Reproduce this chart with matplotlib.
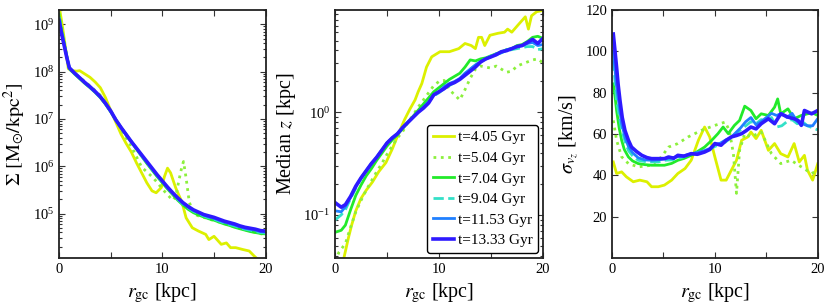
import numpy as np
import matplotlib
matplotlib.use("Agg")
import matplotlib.pyplot as plt
from matplotlib.ticker import LogLocator, NullFormatter

plt.rcParams['font.family'] = 'serif'
plt.rcParams['font.serif'] = ['Liberation Serif', 'DejaVu Serif']
plt.rcParams['mathtext.fontset'] = 'stix'

# snapshots
labels = ['t=4.05 Gyr', 't=5.04 Gyr', 't=7.04 Gyr', 't=9.04 Gyr', 't=11.53 Gyr', 't=13.33 Gyr']
colors = ['#dcf000', '#8cf03c', '#22ea2a', '#33e0c8', '#2080ff', '#2e1aff']
styles = ['-', ':', '-', '--', '-', '-']
widths = [2.0, 2.0, 2.0, 2.0, 2.0, 2.6]

# ---- panel 1: surface density (log10 Msun/kpc^2) ----
r_sig = [0, 0.25, 0.5, 0.75, 1.0, 1.5, 2, 2.5, 3, 3.5, 4, 4.5, 5, 5.5, 6, 6.5, 7, 7.5, 8, 8.5,
         9, 9.5, 10, 10.5, 11, 11.5, 12, 12.5, 13, 13.5, 14, 14.5, 15, 15.5, 16, 16.5, 17,
         17.5, 18, 18.5, 19, 19.5, 20]
r_sig_405 = [0, 0.3, 0.6, 0.9, 1.3, 1.7, 2.0, 2.5, 3.0, 3.5, 4.0, 4.5, 5.0, 5.5, 6.0, 6.5, 7.0,
             7.5, 8.0, 8.5, 9.0, 9.4, 9.9, 10.2, 10.5, 10.8, 11.3, 11.9, 12.3, 12.9, 13.5, 14.2,
             14.5, 15.0, 15.7, 16.2, 16.6, 17.1, 17.8, 18.4, 18.9, 19.5, 20]
lsig_405 = [9.40, 9.00, 8.55, 8.06, 8.02, 8.01, 8.02, 7.95, 7.88, 7.78, 7.66, 7.45, 7.18, 6.93,
            6.68, 6.48, 6.30, 6.07, 5.86, 5.65, 5.48, 5.44, 5.55, 5.78, 5.96, 5.86, 5.54, 5.24,
            4.91, 4.70, 4.63, 4.56, 4.45, 4.52, 4.35, 4.38, 4.28, 4.28, 4.24, 4.21, 4.10, 3.98, 3.90]
r_sig_504 = [0, 0.3, 0.6, 1.0, 1.5, 2, 3, 4, 5, 6, 7, 7.5, 8, 8.5, 9, 9.5, 10, 10.5, 11, 11.3,
             11.6, 11.9, 12.05, 12.3, 12.6, 13, 13.5, 14, 15, 16, 17, 18, 19, 20]
lsig_504 = [9.25, 8.90, 8.50, 8.05, 7.96, 7.88, 7.70, 7.50, 7.18, 6.78, 6.42, 6.20, 5.98, 5.88,
            5.78, 5.66, 5.52, 5.40, 5.28, 5.36, 5.70, 6.00, 6.10, 5.75, 5.25, 5.00, 4.95, 4.92,
            4.85, 4.79, 4.72, 4.66, 4.60, 4.55]
lsig_704 = [9.20, 8.88, 8.60, 8.33, 8.06, 7.95, 7.85, 7.75, 7.66, 7.56, 7.45, 7.31, 7.15, 6.98,
            6.82, 6.66, 6.51, 6.36, 6.21, 6.06, 5.92, 5.78, 5.65, 5.52, 5.40, 5.28, 5.18, 5.09,
            5.02, 4.97, 4.93, 4.89, 4.86, 4.82, 4.78, 4.75, 4.71, 4.68, 4.65, 4.62, 4.60, 4.58, 4.57]
lsig_904 = [9.15, 8.85, 8.58, 8.32, 8.07, 7.96, 7.86, 7.76, 7.67, 7.57, 7.46, 7.32, 7.16, 6.98,
            6.82, 6.67, 6.52, 6.37, 6.22, 6.08, 5.94, 5.80, 5.67, 5.54, 5.42, 5.30, 5.20, 5.12,
            5.05, 5.00, 4.95, 4.91, 4.88, 4.84, 4.80, 4.77, 4.74, 4.70, 4.67, 4.65, 4.62, 4.60, 4.59]
lsig_1153 = [9.12, 8.83, 8.57, 8.31, 8.08, 7.97, 7.87, 7.77, 7.67, 7.57, 7.46, 7.32, 7.16, 6.98,
             6.82, 6.67, 6.52, 6.38, 6.23, 6.09, 5.95, 5.81, 5.68, 5.55, 5.43, 5.32, 5.22, 5.14,
             5.07, 5.02, 4.97, 4.93, 4.90, 4.86, 4.82, 4.79, 4.76, 4.72, 4.69, 4.67, 4.65, 4.62, 4.61]
lsig_1333 = [9.08, 8.80, 8.55, 8.30, 8.08, 7.97, 7.87, 7.77, 7.68, 7.58, 7.47, 7.33, 7.17, 6.98,
             6.82, 6.67, 6.52, 6.38, 6.24, 6.10, 5.96, 5.82, 5.69, 5.56, 5.44, 5.33, 5.23, 5.15,
             5.08, 5.03, 4.98, 4.95, 4.92, 4.88, 4.84, 4.81, 4.78, 4.74, 4.71, 4.69, 4.67, 4.64, 4.63]

# ---- panel 2: median |z| (log10 kpc) ----
r_z = [0, 0.6, 1, 1.5, 2, 2.5, 3, 3.5, 4, 4.5, 5, 5.5, 6, 6.5, 7, 7.5, 8, 8.5, 9, 9.5, 10, 10.5,
       11, 11.5, 12, 12.5, 13, 13.5, 14, 14.5, 15, 15.5, 16, 16.5, 17, 17.5, 18, 18.5, 19, 19.5, 20]
r_z_405 = [0, 0.5, 0.9, 1.3, 1.6, 2, 2.5, 3, 3.6, 4.2, 4.9, 5.5, 6.1, 6.7, 7.2, 7.7, 8.0, 8.35,
           8.8, 9.3, 10.1, 11.0, 11.9, 12.5, 13.1, 13.5, 13.8, 14.1, 14.4, 14.9, 15.7, 16.3, 16.6,
           17.0, 17.6, 18.3, 18.6, 18.9, 19.4, 19.9, 20]
lz_405 = [-1.90, -1.60, -1.40, -1.22, -1.10, -0.96, -0.84, -0.76, -0.68, -0.58, -0.49, -0.36,
          -0.21, -0.07, 0.03, 0.12, 0.20, 0.28, 0.44, 0.54, 0.59, 0.59, 0.62, 0.67, 0.65, 0.62,
          0.73, 0.73, 0.65, 0.75, 0.77, 0.78, 0.81, 0.78, 0.85, 0.93, 0.81, 0.94, 0.98, 0.99, 1.0]
r_z_504 = [0, 0.4, 1, 1.5, 2, 2.5, 3, 3.5, 4, 4.5, 5, 5.5, 6, 6.5, 7, 7.5, 8, 8.5, 9, 9.5, 10,
           10.5, 11, 11.5, 12, 12.5, 13, 13.5, 14, 14.5, 15, 15.5, 16, 16.5, 17, 17.5, 18, 18.5,
           19, 19.5, 20]
lz_504 = [-1.45, -1.36, -1.28, -1.12, -0.97, -0.86, -0.76, -0.67, -0.58, -0.50, -0.41, -0.33,
          -0.25, -0.19, -0.10, -0.03, 0.05, 0.12, 0.19, 0.26, 0.30, 0.31, 0.22, 0.17, 0.12, 0.22,
          0.33, 0.42, 0.45, 0.44, 0.43, 0.45, 0.42, 0.39, 0.40, 0.45, 0.47, 0.49, 0.51, 0.52, 0.48]
lz_704 = [-1.17, -1.15, -1.10, -0.95, -0.81, -0.71, -0.62, -0.55, -0.47, -0.40, -0.33, -0.27,
          -0.22, -0.16, -0.10, -0.04, 0.02, 0.08, 0.14, 0.20, 0.24, 0.28, 0.32, 0.35, 0.38, 0.44,
          0.51, 0.50, 0.52, 0.53, 0.55, 0.57, 0.59, 0.61, 0.62, 0.65, 0.66, 0.69, 0.73, 0.74, 0.72]
lz_904 = [-1.05, -1.00, -0.95, -0.84, -0.74, -0.65, -0.58, -0.50, -0.44, -0.37, -0.30, -0.25,
          -0.21, -0.15, -0.10, -0.05, 0.00, 0.05, 0.10, 0.16, 0.19, 0.23, 0.26, 0.29, 0.32, 0.37,
          0.42, 0.46, 0.50, 0.52, 0.55, 0.56, 0.58, 0.60, 0.61, 0.62, 0.63, 0.64, 0.64, 0.61, 0.62]
lz_1153 = [-0.96, -0.97, -0.92, -0.83, -0.73, -0.64, -0.57, -0.50, -0.44, -0.37, -0.30, -0.25,
           -0.21, -0.15, -0.10, -0.05, 0.00, 0.05, 0.10, 0.17, 0.20, 0.25, 0.28, 0.30, 0.33, 0.38,
           0.42, 0.46, 0.49, 0.52, 0.54, 0.57, 0.58, 0.61, 0.62, 0.64, 0.65, 0.67, 0.68, 0.65, 0.66]
lz_1333 = [-0.88, -0.925, -0.90, -0.82, -0.72, -0.64, -0.57, -0.50, -0.44, -0.37, -0.30, -0.25,
           -0.21, -0.15, -0.10, -0.05, 0.00, 0.04, 0.09, 0.17, 0.20, 0.23, 0.27, 0.29, 0.32, 0.36,
           0.40, 0.44, 0.49, 0.52, 0.54, 0.56, 0.59, 0.60, 0.62, 0.64, 0.65, 0.68, 0.71, 0.67, 0.72]

# ---- panel 3: vertical velocity dispersion (km/s) ----
r_s_405 = [0.13, 0.45, 0.94, 1.4, 2.07, 2.7, 3.4, 3.85, 4.5, 5.1, 5.8, 6.4, 7.1, 7.7, 8.4, 9.0,
           9.5, 10.0, 10.6, 11.1, 11.6, 12.1, 12.6, 13.2, 13.5, 14.0, 14.5, 15.2, 15.8, 16.4,
           17.1, 17.7, 18.2, 18.7, 19.0, 19.5, 20]
s_405 = [46.5, 40.9, 41.7, 39.3, 36.9, 37.7, 36.9, 34.5, 34.5, 35.3, 37.7, 40.9, 43.3, 47.3,
         57.0, 63.4, 58.6, 48.9, 37.7, 37.7, 42.5, 47.3, 57.0, 58.6, 61.0, 57.8, 61.8, 52.1,
         55.4, 50.5, 48.9, 55.4, 46.5, 49.7, 42.5, 37.7, 45.7]
r_s_504 = [0.13, 0.45, 0.94, 1.6, 2.55, 3.85, 4.8, 5.5, 6.4, 7.4, 8.7, 10.0, 11.0, 11.4, 11.8,
           12.1, 12.4, 12.9, 13.5, 14.5, 15.5, 16.4, 17.4, 18.4, 19.4, 20]
s_504 = [66.6, 57.0, 49.0, 45.7, 44.1, 44.9, 48.9, 53.7, 55.4, 58.6, 61.8, 64.2, 65.8, 61.8,
         50.5, 31.3, 52.1, 60.2, 58.6, 61.0, 50.5, 45.7, 47.3, 44.1, 40.9, 42.5]
r_s_704 = [0.13, 0.3, 0.45, 0.7, 0.94, 1.2, 1.6, 2.0, 2.55, 3.2, 3.85, 4.5, 5.1, 5.8, 6.4, 7.0,
           7.7, 8.3, 9.0, 9.7, 10.3, 10.8, 11.3, 11.9, 12.4, 12.9, 13.5, 14.0, 14.5, 15.2, 15.8,
           16.1, 16.4, 17.1, 17.7, 18.4, 19.0, 19.5, 20]
s_704 = [84.3, 78.0, 71.4, 63.0, 57.0, 52.5, 48.9, 47.0, 45.7, 45.2, 44.9, 44.9, 44.9, 45.8,
         47.3, 48.2, 49.7, 51.5, 53.7, 57.0, 60.2, 63.4, 60.2, 64.2, 66.6, 73.5, 71.4, 67.4,
         69.8, 69.0, 73.0, 77.0, 69.8, 72.2, 67.4, 69.0, 69.8, 70.2, 69.0]
r_s = [0.13, 0.45, 0.94, 1.3, 1.6, 2.0, 2.55, 3.2, 3.85, 4.5, 5.1, 5.8, 6.4, 7.0, 7.7, 8.3, 9.0,
       9.5, 10.0, 10.5, 11.0, 11.5, 12.0, 12.5, 13.0, 13.5, 14.0, 14.5, 15.0, 15.5, 16.0, 16.5,
       17.0, 17.5, 18.0, 18.5, 19.0, 19.5, 20]
s_904 = [95.6, 76.2, 62.0, 56.0, 52.0, 49.5, 47.3, 46.7, 46.5, 46.5, 47.3, 47.5, 48.1, 49.0,
         50.5, 51.0, 52.0, 52.5, 54.0, 55.0, 56.0, 58.0, 60.0, 62.0, 64.0, 66.0, 65.0, 67.0,
         66.0, 68.0, 63.4, 64.0, 66.0, 67.0, 65.0, 66.0, 64.0, 63.0, 62.0]
s_1153 = [100.0, 83.0, 65.0, 58.0, 54.0, 51.0, 48.5, 47.5, 47.3, 47.5, 48.0, 48.5, 49.0, 49.5,
          50.5, 51.0, 52.0, 53.0, 55.0, 55.5, 57.0, 58.0, 60.5, 63.0, 66.0, 68.0, 64.5, 66.0,
          68.0, 70.0, 69.0, 70.0, 68.0, 70.0, 66.0, 65.0, 64.0, 64.0, 67.5]
r_s_1333 = [0.13, 0.3, 0.45, 0.6, 0.78, 1.0, 1.26, 1.6, 1.9, 2.4, 2.9, 3.4, 3.85, 4.5, 5.1, 5.5,
            6.0, 6.4, 7.0, 7.7, 8.3, 9.0, 9.5, 10.0, 10.6, 11.1, 11.6, 12.1, 12.6, 13.0, 13.5,
            14.0, 14.5, 15.2, 15.8, 16.4, 17.1, 17.7, 18.1, 18.4, 18.7, 19.4, 20]
s_1333 = [108.4, 100.0, 92.3, 84.0, 76.2, 68.0, 61.8, 57.0, 53.7, 51.5, 49.7, 48.6, 48.1, 48.1,
          48.1, 48.9, 48.3, 49.7, 49.3, 50.5, 50.2, 51.3, 52.5, 55.4, 54.6, 57.0, 58.6, 59.3,
          60.2, 61.5, 63.4, 62.5, 65.0, 67.4, 65.0, 69.8, 68.2, 67.4, 66.5, 64.2, 71.4, 69.8, 71.4]

sig_r = [r_sig_405, r_sig_504, r_sig, r_sig, r_sig, r_sig]
sig_v = [lsig_405, lsig_504, lsig_704, lsig_904, lsig_1153, lsig_1333]
z_r = [r_z_405, r_z_504, r_z, r_z, r_z, r_z]
z_v = [lz_405, lz_504, lz_704, lz_904, lz_1153, lz_1333]
s_r = [r_s_405, r_s_504, r_s_704, r_s, r_s, r_s_1333]
s_v = [s_405, s_504, s_704, s_904, s_1153, s_1333]

fig = plt.figure(figsize=(8.3, 3.05), dpi=100)
ax1 = fig.add_axes([0.0711, 0.154, 0.249, 0.813])
ax2 = fig.add_axes([0.4036, 0.154, 0.2506, 0.813])
ax3 = fig.add_axes([0.7373, 0.154, 0.248, 0.813])

for i in range(6):
    ax1.plot(sig_r[i], 10 ** np.array(sig_v[i]), ls=styles[i], color=colors[i], lw=widths[i])
    ax2.plot(z_r[i], 10 ** np.array(z_v[i]), ls=styles[i], color=colors[i], lw=widths[i],
             label=labels[i])
    ax3.plot(s_r[i], s_v[i], ls=styles[i], color=colors[i], lw=widths[i])

ax1.set_yscale('log')
ax1.set_ylim(1.15e4, 2.0e9)
ax1.set_ylabel(r'$\Sigma\ [\mathrm{M}_{\odot}/\mathrm{kpc}^2]$', fontsize=14.5)

ax2.set_yscale('log')
ax2.set_ylim(0.038, 9.9)
ax2.set_ylabel(r'Median $z$ [kpc]', fontsize=14.5)

ax3.set_ylim(0, 120)
ax3.set_yticks([20, 40, 60, 80, 100, 120])
ax3.set_ylabel(r'$\sigma_{v_z}$ [km/s]', fontsize=14.5)

for ax in (ax1, ax2, ax3):
    ax.set_xlim(0, 20)
    ax.set_xticks([0, 10, 20])
    ax.set_xticks([5, 15], minor=True)
    ax.set_xlabel(r'$r_{\rm gc}$ [kpc]', fontsize=14.5)
    ax.tick_params(which='both', direction='in', top=True, right=True, labelsize=10.5,
                   width=0.8, color='#333333')
    ax.tick_params(which='major', length=4.5)
    ax.tick_params(which='minor', length=2.5)
    ax.tick_params(axis='x', which='minor', length=4.5)
    for sp in ax.spines.values():
        sp.set_linewidth(1.3)
        sp.set_color('#222222')

for ax in (ax1, ax2):
    ax.yaxis.set_minor_locator(LogLocator(base=10, subs=np.arange(2, 10), numticks=20))
    ax.yaxis.set_minor_formatter(NullFormatter())

leg = ax2.legend(loc='lower right', fontsize=11, handlelength=1.4, handletextpad=0.2,
                 labelspacing=0.45, borderpad=0.4, borderaxespad=0.3, fancybox=True,
                 framealpha=1)
leg.get_frame().set_edgecolor('black')
leg.get_frame().set_linewidth(1.0)

fig.savefig('out.png', dpi=100)
